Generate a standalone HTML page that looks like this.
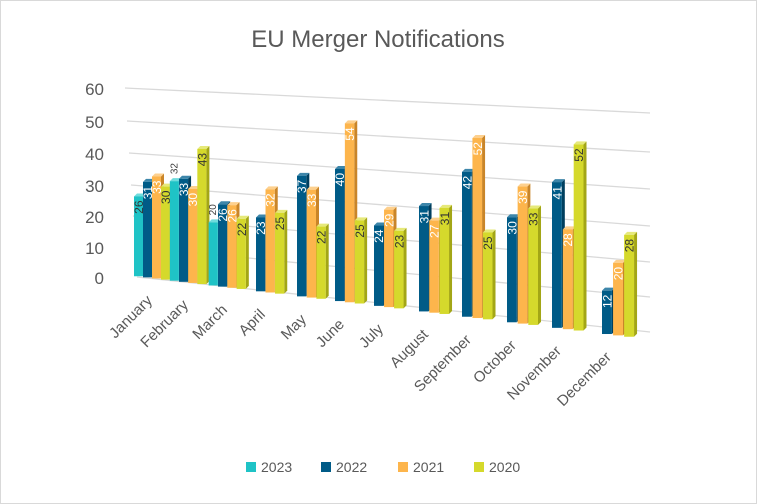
<!DOCTYPE html>
<html><head><meta charset="utf-8"><style>
html,body{margin:0;padding:0;background:#fff}
svg{display:block;font-family:"Liberation Sans",sans-serif}
</style></head><body>
<svg id="s" width="757" height="504" viewBox="0 0 757 504" xmlns="http://www.w3.org/2000/svg">
<rect x="0.5" y="0.5" width="756" height="503" fill="#fff" stroke="#d9d9d9"/>
<text x="378" y="47" text-anchor="middle" font-size="24" fill="#595959">EU Merger Notifications</text>
<g id="grid" stroke="#d9d9d9" stroke-width="1.3" fill="none"></g>
<g id="ylab" font-size="17" fill="#595959" text-anchor="end"></g>
<g id="bars"></g>
<g id="xlab" font-size="15" fill="#595959" text-anchor="end"></g>
<g font-size="14" fill="#595959">
<rect x="246" y="462" width="10" height="10" fill="#1fc3c6"/><text x="261" y="472">2023</text>
<rect x="321" y="462" width="10" height="10" fill="#005b87"/><text x="336" y="472">2022</text>
<rect x="398" y="462" width="10" height="10" fill="#fdb54c"/><text x="413" y="472">2021</text>
<rect x="474" y="462" width="10" height="10" fill="#d5d92c"/><text x="489" y="472">2020</text>
</g>
</svg>
<script>
var NS="http://www.w3.org/2000/svg";
function el(p,t,a,txt){var e=document.createElementNS(NS,t);for(var k in a)e.setAttribute(k,a[k]);if(txt!==undefined)e.textContent=txt;document.getElementById(p).appendChild(e);return e;}
var L=[88,121,153,185,216,247,277],R=[113,152,189,226,262,297,332];
for(var i=0;i<7;i++){var lx=125+i*2;el("grid","line",{x1:lx,y1:L[i],x2:650,y2:R[i]});
el("ylab","text",{x:104,y:L[i]+7},String(60-i*10));}
var X=[143,179,218,256,297,335,374,419,462,507,552,602];
var M=["January","February","March","April","May","June","July","August","September","October","November","December"];
var D=[[26,32,20,null,null,null,null,null,null,null,null,null],
[31,33,26,23,37,40,24,31,42,30,41,12],
[33,30,26,32,33,54,29,27,52,39,28,20],
[30,43,22,25,22,25,23,31,25,33,52,28]];
var C=[["#1fc3c6","#179a9c","#6fdcdd","#333"],["#005b87","#003f5f","#3d86aa","#fff"],["#fdb54c","#c98529","#fdd08e","#fff"],["#d5d92c","#a3a616","#e6e97a","#333"]];
function bottom(x){return 277+(x-140)*0.1234;}
function sc(x){return 3.09+(x-152)*0.00116;}
for(var m=0;m<12;m++){
 var b=X[m];var step=9+(b-143)*0.0045;var w=9+(b-143)*0.002;
 for(var s=0;s<4;s++){
  var v=D[s][m];if(v===null)continue;
  var x=b+(s-1)*step;var yb=bottom(x);var h=v*sc(x);var yt=yb-h;var d=3;
  var c=C[s];
  el("bars","polygon",{points:(x+w)+","+yt+" "+(x+w+d)+","+(yt-d)+" "+(x+w+d)+","+(yb-d)+" "+(x+w)+","+yb,fill:c[1]});
  el("bars","polygon",{points:x+","+yt+" "+(x+d)+","+(yt-d)+" "+(x+w+d)+","+(yt-d)+" "+(x+w)+","+yt,fill:c[2]});
  el("bars","rect",{x:x,y:yt,width:w,height:h,fill:c[0]});
  var cx=x+w/2+4.5,cy=yt+4;
  if(s==0&&m>0){ el("bars","text",{transform:"translate("+(x+w/2+3)+","+(yt-7)+") rotate(-90)","font-size":"10","fill":"#404040"},String(v)); }
  else el("bars","text",{transform:"translate("+cx+","+cy+") rotate(-90)","font-size":"12","fill":c[3],"text-anchor":"end"},String(v));
 }
 var lx=b+10,ly=bottom(b)+24;
 el("xlab","text",{transform:"translate("+lx+","+ly+") rotate(-45)"},M[m]);
}
</script>
</body></html>
